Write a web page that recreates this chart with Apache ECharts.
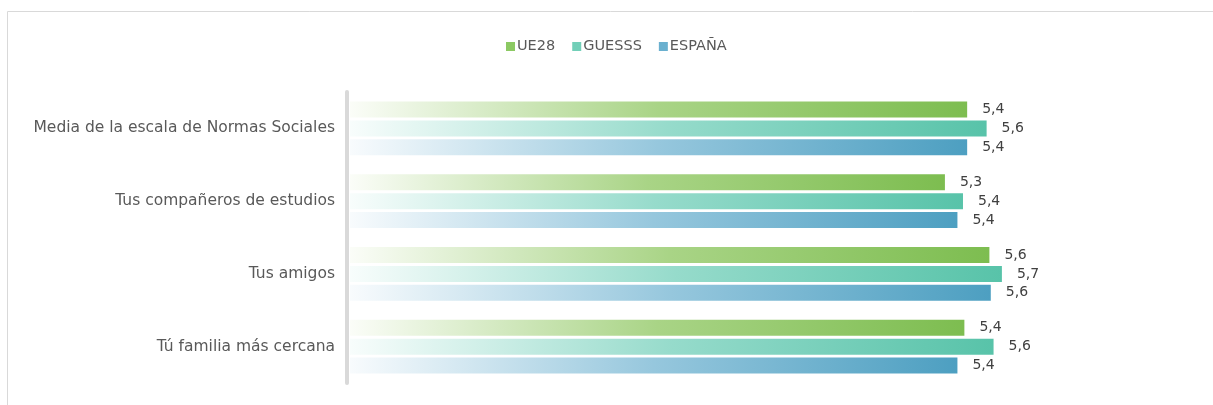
<!DOCTYPE html>
<html>
<head>
<meta charset="utf-8">
<script src="https://cdn.jsdelivr.net/npm/echarts@6/dist/echarts.min.js"></script>
<style>
  html, body { margin: 0; padding: 0; background: #fff; }
  #chart { width: 1213px; height: 405px; }
</style>
</head>
<body>
<div id="chart"></div>
<script>
// categories top to bottom
const categories = [
  'Media de la escala de Normas Sociales',
  'Tus compañeros de estudios',
  'Tus amigos',
  'Tú familia más cercana'
]
const seriesNames = ['UE28', 'GUESSS', 'ESPAÑA']
const ue28 = [5.44, 5.28, 5.60, 5.42]
const guesss = [5.58, 5.41, 5.69, 5.63]
const espana = [5.44, 5.37, 5.61, 5.37]

const font = 'DejaVu Sans'

const grad = (light, mid, dark) => new echarts.graphic.LinearGradient(0, 0, 1, 0, [
  { offset: 0, color: light },
  { offset: 0.5, color: mid },
  { offset: 1, color: dark }
])

const colors = [
  grad('#fbfdf8', '#a9d486', '#7dbd50'),
  grad('#f8fdfc', '#96dbcb', '#58c3a9'),
  grad('#f8fbfd', '#96c7dd', '#4d9fc1')
]
const legendColors = ['#8cc963', '#72cfb8', '#6ab0cf']

const chart = echarts.init(document.getElementById('chart'))

const makeSeries = (name, data, i) => ({
  name: name,
  type: 'bar',
  data: data,
  barWidth: 16,
  barGap: '18%',
  itemStyle: { color: colors[i] },
  label: {
    show: true,
    position: 'right',
    distance: 15,
    color: '#404040',
    fontFamily: font,
    fontSize: 14,
    formatter: p => p.value.toFixed(1).replace('.', ',')
  }
})

chart.setOption({
  animation: false,
  textStyle: { fontFamily: font },
  graphic: [{
    type: 'rect',
    shape: { x: 7.5, y: 11.5, width: 1400, height: 600 },
    style: { fill: 'none', stroke: '#d9d9d9', lineWidth: 1 },
    silent: true
  }],
  legend: {
    top: 39,
    left: 506,
    padding: 0,
    itemWidth: 9,
    itemHeight: 9,
    itemGap: 17,
    icon: 'rect',
    textStyle: { color: '#595959', fontSize: 14.5, fontFamily: font, padding: [0, 0, 0, -3] },
    data: seriesNames.map((n, i) => ({ name: n, itemStyle: { color: legendColors[i] } }))
  },
  grid: { left: 350, right: 29, top: 92, bottom: 22 },
  xAxis: {
    type: 'value',
    min: 1,
    max: 7,
    show: false
  },
  yAxis: {
    type: 'category',
    inverse: true,
    offset: 3,
    data: categories,
    axisLine: { lineStyle: { color: '#d9d9d9', width: 4 } },
    axisTick: { show: false },
    axisLabel: { color: '#595959', fontSize: 15.5, fontFamily: font, margin: 12 }
  },
  series: [
    makeSeries(seriesNames[0], ue28, 0),
    makeSeries(seriesNames[1], guesss, 1),
    makeSeries(seriesNames[2], espana, 2)
  ]
})
</script>
</body>
</html>
